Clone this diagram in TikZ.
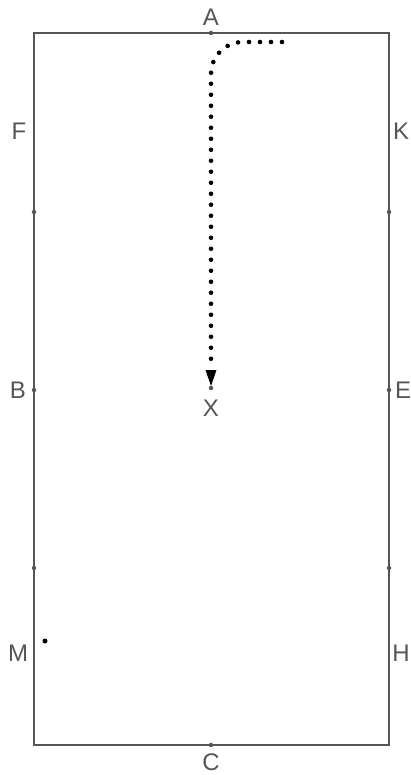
\documentclass[tikz,border=0pt]{standalone}
\usepackage{fontspec}
\setmainfont{Liberation Sans}
\begin{document}
\begin{tikzpicture}[x=1pt,y=-1pt,
  edge/.style={draw=gray55,line width=2pt},
  tick/.style={circle,fill=gray55,inner sep=0pt,minimum size=4.5pt},
  lbl/.style={text=gray55,font=\fontsize{24}{24}\selectfont,inner sep=0pt},
  trail/.style={line width=4.6pt,line cap=round,dash pattern=on 0pt off 11pt,rounded corners=32pt}]
\definecolor{gray55}{HTML}{565656}
\useasboundingbox[fill=white] (0,0) rectangle (411,775);
% arena
\coordinate (NW) at (34,33);
\coordinate (SE) at (389,745);
\draw[edge] (NW) rectangle (SE);
% edge markers
\foreach \n/\x/\y in {pA/211/33,pC/211/745,pL1/34/212,pB/34/390,pL2/34/568,pR1/389/212,pE/389/390,pR2/389/568}
  \node[tick] (\n) at (\x,\y) {};
\node[tick] (pX) at (211,388) {};
% letters
\node[lbl] (A) at (211,17) {A};
\node[lbl] (C) at (211,762) {C};
\node[lbl] (F) at (19,131) {F};
\node[lbl] (K) at (401,131) {K};
\node[lbl] (B) at (18,390) {B};
\node[lbl] (E) at (403,390) {E};
\node[lbl] (M) at (18,653) {M};
\node[lbl] (H) at (401,653) {H};
\node[lbl] (X) at (211,408) {X};
% single dot near M
\node[circle,fill=black,inner sep=0pt,minimum size=5pt] (m) at (45,641) {};
% dotted trail
\coordinate (s) at (282,42);
\coordinate (corner) at (211,42);
\coordinate (e) at (211,364);
\draw[trail] (s) -- (corner) -- (e);
% arrow head
\coordinate (tip) at (211,386);
\fill[black] (tip) -- ++(-5.5,-16) -- ++(11,0) -- cycle;
\end{tikzpicture}
\end{document}
